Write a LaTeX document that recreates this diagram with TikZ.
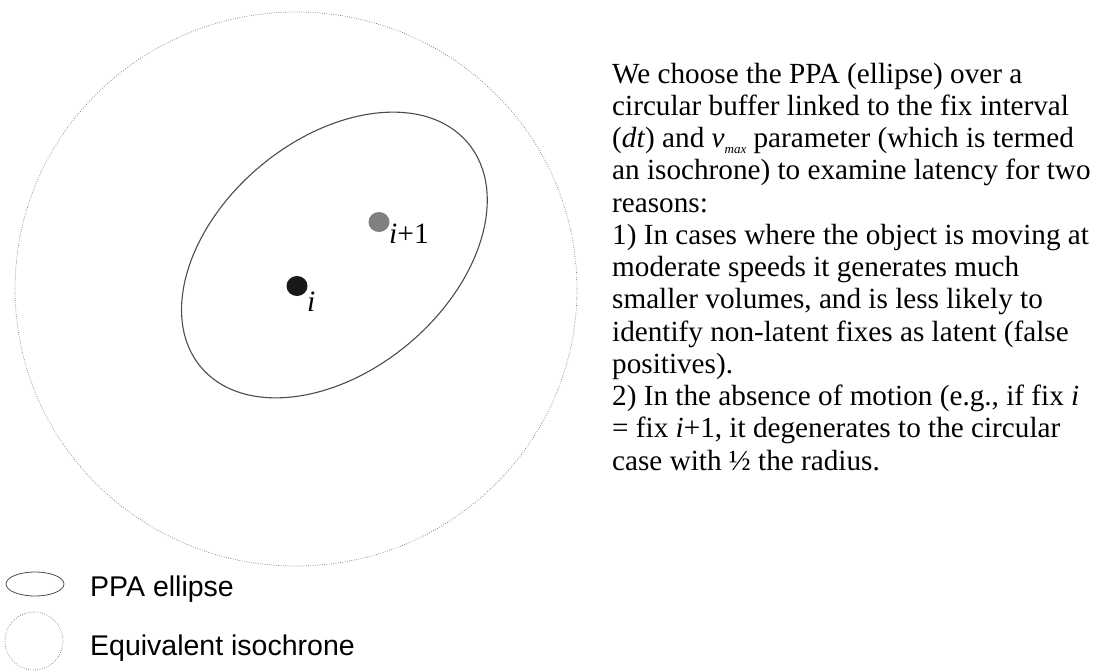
\documentclass[tikz,border=0pt]{standalone}
\usepackage{fontspec}
\setmainfont{Liberation Serif}
\newfontfamily\legendfont{Liberation Sans}
\begin{document}
\begin{tikzpicture}[x=1pt,y=-1pt,
  isoline/.style={draw=black!55, line width=0.7pt, dash pattern=on 0.7pt off 1.6pt},
  ppaline/.style={draw=black!70, line width=1.1pt},
  bodytext/.style={anchor=base west, inner sep=0pt, font=\fontsize{29.2}{32}\selectfont},
  legendtext/.style={anchor=base west, inner sep=0pt, font=\legendfont\fontsize{28.5}{30}\selectfont},
  ptlabel/.style={anchor=base west, inner sep=0pt, font=\fontsize{29.5}{30}\selectfont}]
\useasboundingbox (0,0) rectangle (1101,670);
% isochrone
\draw[isoline] (296,289) ellipse [x radius=281, y radius=277];
% PPA ellipse
\draw[ppaline] (334.4,255) ellipse [x radius=174.3, y radius=115.7, rotate=40];
% fixes
\fill[black!90] (297,286) ellipse [x radius=10.5, y radius=10] coordinate (fi);
\fill[black!50] (379,222) ellipse [x radius=10.5, y radius=10] coordinate (fj);
\node[ptlabel] (li) at (307,311) {\textit{i}};
\node[ptlabel] (lj) at (389,243) {\textit{i}+1};
% text
\node[bodytext] (t1) at (612,83) {We choose the PPA (ellipse) over a};
\node[bodytext] (t2) at (612,115.25) {circular buffer linked to the fix interval};
\node[bodytext] (t3) at (612,147.5) {(\textit{dt}) and \textit{v}\raisebox{-0.45ex}{\fontsize{13}{13}\selectfont\textit{max}} parameter (which is termed};
\node[bodytext] (t4) at (612,179.75) {an isochrone) to examine latency for two};
\node[bodytext] (t5) at (612,212) {reasons:};
\node[bodytext] (t6) at (612,244.25) {1) In cases where the object is moving at};
\node[bodytext] (t7) at (612,276.5) {moderate speeds it generates much};
\node[bodytext] (t8) at (612,308.75) {smaller volumes, and is less likely to};
\node[bodytext] (t9) at (612,341) {identify non-latent fixes as latent (false};
\node[bodytext] (t10) at (612,373.25) {positives).};
\node[bodytext] (t11) at (612,405.5) {2) In the absence of motion (e.g., if fix \textit{i}};
\node[bodytext] (t12) at (612,437.75) {= fix \textit{i}+1, it degenerates to the circular};
\node[bodytext] (t13) at (612,470) {case with ½ the radius.};
% legend
\draw[ppaline, line width=0.8pt] (35,584) ellipse [x radius=29, y radius=12];
\node[legendtext] (l1) at (90,596) {PPA ellipse};
\draw[isoline] (34,641) ellipse [x radius=29, y radius=29];
\node[legendtext] (l2) at (90,655) {Equivalent isochrone};
\end{tikzpicture}
\end{document}
